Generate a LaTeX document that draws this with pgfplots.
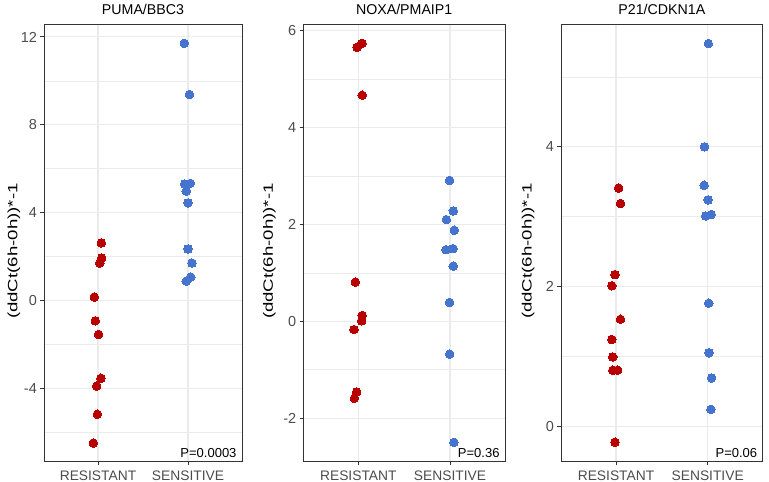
\documentclass[border=0pt]{standalone}
\usepackage{fontspec}
\setmainfont{Liberation Sans}
\usepackage{pgfplots}
\pgfplotsset{compat=1.18}

\definecolor{resred}{HTML}{B80000}
\definecolor{sensblue}{HTML}{4474CE}
\definecolor{gridgrey}{HTML}{EBEBEB}
\definecolor{framegrey}{HTML}{333333}
\definecolor{ticktext}{HTML}{4D4D4D}

\tikzset{pval/.style={font=\fontsize{13bp}{15bp}\selectfont, anchor=base east}}

\pgfplotsset{
  every axis title/.style={font=\fontsize{14.2bp}{16bp}\selectfont,
    at={(rel axis cs:0.5,1)}, anchor=base, yshift=9bp},
  every axis y label/.style={font=\fontsize{13.5bp}{16bp}\selectfont,
    at={(rel axis cs:0,0.5)}, anchor=center, rotate=90, xscale=1.38, xshift=-6bp},
  dotpanel/.style={
    scale only axis,
    anchor=south west,
    height=437.7bp,
    xmin=0.4, xmax=2.6,
    xtick={1,2},
    xticklabels={RESISTANT,SENSITIVE},
    axis line style={framegrey, line width=0.9bp},
    tick style={framegrey, line width=0.9bp},
    tick align=outside,
    tick pos=left,
    major tick length=3.6bp,
    minor tick length=0pt,
    xmajorgrids, ymajorgrids, yminorgrids,
    major grid style={gridgrey, line width=1.1bp},
    minor grid style={gridgrey, line width=0.6bp},
    ticklabel style={font=\fontsize{14.5bp}{16bp}\selectfont, text=ticktext},
    xticklabel style={font=\fontsize{13.8bp}{16bp}\selectfont, text=ticktext,
      anchor=base, yshift=-15bp},
    ylabel={(ddCt(6h-0h))*-1},
    clip=false,
  },
  dots/.style={only marks, color=#1, mark=*, mark size=4.3bp,
    mark options={draw=#1, fill=#1, line width=0pt}},
}

\begin{document}
\begin{tikzpicture}
\path[use as bounding box] (0,0) rectangle (769bp,482bp);

% PUMA/BBC3
\begin{axis}[dotpanel, at={(44bp,20.3bp)}, width=198bp,
  title={PUMA/BBC3},
  ymin=-7.35, ymax=12.59,
  ytick={-4,0,4,8,12}, yticklabels={-4,0,4,8,12},
  minor ytick={-6,-2,2,6,10},
  ylabel style={yshift=30bp}]
\addplot[dots=resred] coordinates {
  (1.037,2.62) (1.041,1.93) (1.019,1.70) (0.959,0.15) (0.970,-0.93)
  (1.007,-1.55) (1.033,-3.55) (0.985,-3.91) (0.993,-5.19) (0.948,-6.50)};
\addplot[dots=sensblue] coordinates {
  (1.959,11.71) (2.015,9.38) (1.963,5.30) (2.026,5.33) (1.981,4.98)
  (2.000,4.44) (2.000,2.34) (2.044,1.70) (2.030,1.06) (1.981,0.88)};
\node[pval] at (rel axis cs:1,0) [xshift=-2bp, yshift=4.5bp] {P=0.0003};
\end{axis}

% NOXA/PMAIP1
\begin{axis}[dotpanel, at={(303.3bp,20.3bp)}, width=201.7bp,
  title={NOXA/PMAIP1},
  ymin=-2.90, ymax=6.14,
  ytick={-2,0,2,4,6}, yticklabels={-2,0,2,4,6},
  minor ytick={-1,1,3,5},
  ylabel style={yshift=34bp}]
\addplot[dots=resred] coordinates {
  (0.986,5.66) (1.040,5.74) (1.043,4.67) (0.968,0.81) (1.043,0.12)
  (1.036,0.01) (0.953,-0.17) (0.982,-1.46) (0.957,-1.59)};
\addplot[dots=sensblue] coordinates {
  (1.996,2.91) (2.036,2.28) (1.960,2.10) (2.047,1.88) (1.957,1.48)
  (2.032,1.50) (2.036,1.14) (1.996,0.39) (1.996,-0.68) (2.043,-2.50)};
\node[pval] at (rel axis cs:1,0) [xshift=-2bp, yshift=4.5bp] {P=0.36};
\end{axis}

% P21/CDKN1A
\begin{axis}[dotpanel, at={(561bp,20.3bp)}, width=201.7bp,
  title={P21/CDKN1A},
  ymin=-0.51, ymax=5.76,
  ytick={0,2,4}, yticklabels={0,2,4},
  minor ytick={1,3,5},
  ylabel style={yshift=33bp}]
\addplot[dots=resred] coordinates {
  (1.028,3.41) (1.049,3.19) (0.989,2.17) (0.954,2.01) (1.049,1.53)
  (0.954,1.24) (0.965,0.99) (0.965,0.80) (1.018,0.80) (0.989,-0.23)};
\addplot[dots=sensblue] coordinates {
  (2.007,5.48) (1.965,4.00) (1.961,3.45) (2.004,3.24) (1.979,3.01)
  (2.039,3.03) (2.011,1.76) (2.014,1.05) (2.042,0.69) (2.035,0.24)};
\node[pval] at (rel axis cs:1,0) [xshift=-2bp, yshift=4.5bp] {P=0.06};
\end{axis}
\end{tikzpicture}
\end{document}
